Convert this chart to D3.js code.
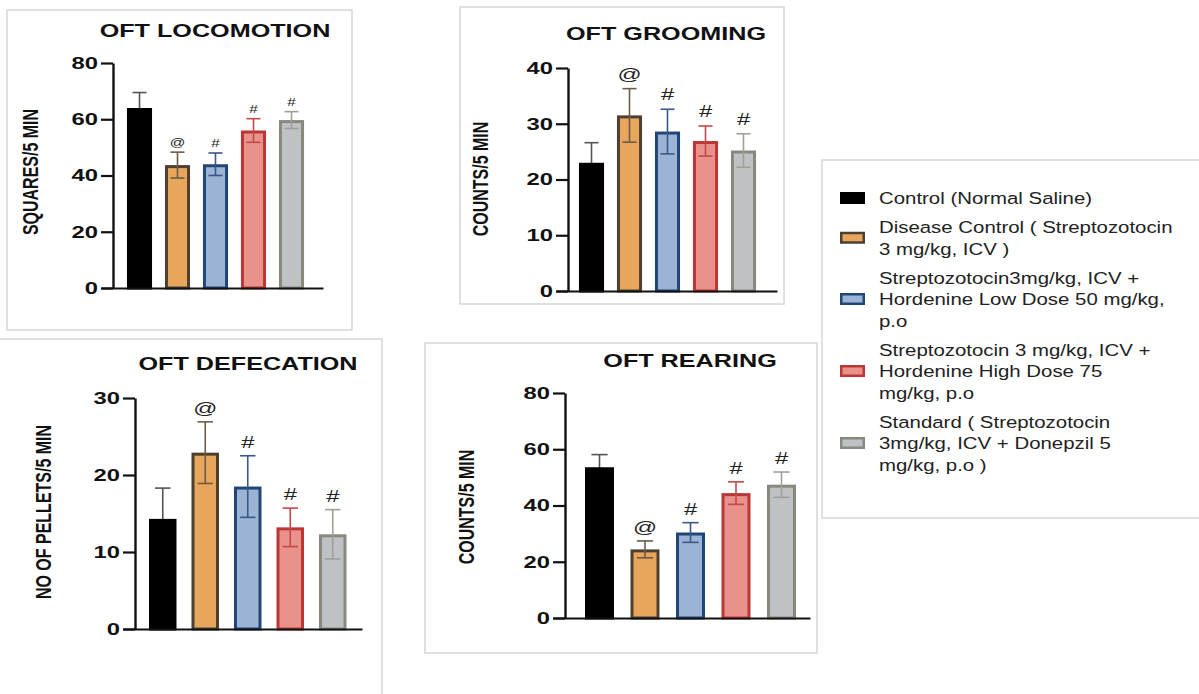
<!DOCTYPE html>
<html>
<head>
<meta charset="utf-8">
<script src="https://cdn.jsdelivr.net/npm/d3@7"></script>
<style>
  body { margin: 0; background: #fff; }
  svg { display: block; font-family: "Liberation Sans", Arial, sans-serif; }
</style>
</head>
<body>
<div id="chart"></div>
<script>
// groups, in bar order
const groups = ["Control", "Disease Control", "Hordenine Low Dose", "Hordenine High Dose", "Standard"];
const legendLines = [
  ["Control (Normal Saline)"],
  ["Disease Control ( Streptozotocin", "3 mg/kg, ICV )"],
  ["Streptozotocin3mg/kg, ICV +", "Hordenine Low Dose 50 mg/kg,", "p.o"],
  ["Streptozotocin 3 mg/kg, ICV +", "Hordenine High Dose 75", "mg/kg, p.o"],
  ["Standard ( Streptozotocin", "3mg/kg, ICV + Donepzil 5", "mg/kg, p.o )"]
];
const signs = ["", "@", "#", "#", "#"];

// values (mean, error)
const locomotionMeans = [64, 43.7, 44, 56, 59.7];
const locomotionErrors = [5.5, 4.6, 4, 4.2, 3];
const locomotionTicks = [0, 20, 40, 60, 80];

const groomingMeans = [23, 31.5, 28.6, 26.9, 25.2];
const groomingErrors = [3.6, 4.8, 4, 2.7, 3];
const groomingTicks = [0, 10, 20, 30, 40];

const defecationMeans = [14.3, 22.9, 18.5, 13.2, 12.3];
const defecationErrors = [4, 4, 4, 2.5, 3.2];
const defecationTicks = [0, 10, 20, 30];

const rearingMeans = [53.6, 24.4, 30.4, 44.4, 47.4];
const rearingErrors = [4.5, 3, 3.5, 4, 4.5];
const rearingTicks = [0, 20, 40, 60, 80];

const fillColors = ["#000000", "#e8a65d", "#9bb4d6", "#e8928b", "#bec2c5"];
const edgeColors = ["#000000", "#4e4030", "#224577", "#bd3636", "#88887e"];
const errColors = ["#555555", "#6b5c48", "#3a5885", "#c44848", "#a0a098"];

// the source picture is stretched sideways, so text is too
const SX = 1.4;

const svg = d3.select("#chart").append("svg")
  .attr("width", 1199)
  .attr("height", 694);

const panels = [
  { title: "OFT LOCOMOTION", ylabel: "SQUARES/5 MIN",
    means: locomotionMeans, errors: locomotionErrors, ticks: locomotionTicks,
    axisX: 113, y0: 288, yTop: 63, xEnd: 323, band: [120.5, 310.5], pad: 0.34,
    titleX: 215, titleY: 37, labelX: 30, labelY: 172, signSize: 11, signGap: 6,
    frame: [7, 10, 345, 320] },
  { title: "OFT GROOMING", ylabel: "COUNTS/5 MIN",
    means: groomingMeans, errors: groomingErrors, ticks: groomingTicks,
    axisX: 568, y0: 291, yTop: 68, xEnd: 777, band: [572.5, 762.5], pad: 0.34,
    titleX: 666, titleY: 39.5, labelX: 480, labelY: 179, signSize: 17, signGap: 9,
    frame: [460, 7, 324, 297] },
  { title: "OFT DEFECATION", ylabel: "NO OF PELLETS/5 MIN",
    means: defecationMeans, errors: defecationErrors, ticks: defecationTicks,
    axisX: 135, y0: 629, yTop: 398, xEnd: 362, band: [141.5, 354], pad: 0.353,
    titleX: 248, titleY: 369.5, labelX: 43, labelY: 512, signSize: 17, signGap: 8,
    frame: [-5, 339, 387, 400] },
  { title: "OFT REARING", ylabel: "COUNTS/5 MIN",
    means: rearingMeans, errors: rearingErrors, ticks: rearingTicks,
    axisX: 565, y0: 618, yTop: 393, xEnd: 810, band: [576.75, 804.25], pad: 0.363,
    titleX: 690, titleY: 367, labelX: 466, labelY: 507, signSize: 17, signGap: 8,
    frame: [425, 343, 392, 310] }
];

panels.forEach((p) => {
  const g = svg.append("g");

  // light frame around each graph
  g.append("rect")
    .attr("x", p.frame[0]).attr("y", p.frame[1])
    .attr("width", p.frame[2]).attr("height", p.frame[3])
    .attr("fill", "none")
    .attr("stroke", "#d6d6d6")
    .attr("stroke-width", 1.5);

  const x = d3.scaleBand()
    .domain(groups)
    .range(p.band)
    .paddingInner(p.pad)
    .paddingOuter(p.pad / 2);

  const y = d3.scaleLinear()
    .domain([0, d3.max(p.ticks)])
    .range([p.y0, p.yTop]);

  const data = groups.map((name, i) => ({
    name: name, mean: p.means[i], err: p.errors[i], i: i
  }));

  // error bars with caps on both ends
  const cap = x.bandwidth() * 0.28;
  const eb = g.selectAll(".err")
    .data(data)
    .enter()
    .append("g")
    .attr("class", "err")
    .attr("stroke", (d) => errColors[d.i])
    .attr("stroke-width", 1.6);
  eb.append("line")
    .attr("x1", (d) => x(d.name) + x.bandwidth() / 2)
    .attr("x2", (d) => x(d.name) + x.bandwidth() / 2)
    .attr("y1", (d) => y(d.mean - d.err))
    .attr("y2", (d) => y(d.mean + d.err));
  eb.append("line")
    .attr("x1", (d) => x(d.name) + x.bandwidth() / 2 - cap)
    .attr("x2", (d) => x(d.name) + x.bandwidth() / 2 + cap)
    .attr("y1", (d) => y(d.mean + d.err))
    .attr("y2", (d) => y(d.mean + d.err));
  eb.append("line")
    .attr("x1", (d) => x(d.name) + x.bandwidth() / 2 - cap)
    .attr("x2", (d) => x(d.name) + x.bandwidth() / 2 + cap)
    .attr("y1", (d) => y(d.mean - d.err))
    .attr("y2", (d) => y(d.mean - d.err));

  // bars, drawn inside their outline
  const sw = 3;
  g.selectAll(".bar")
    .data(data)
    .enter()
    .append("rect")
    .attr("class", "bar")
    .attr("x", (d) => x(d.name) + sw / 2)
    .attr("width", x.bandwidth() - sw)
    .attr("y", (d) => y(d.mean) + sw / 2)
    .attr("height", (d) => y(0) - y(d.mean) - sw / 2)
    .attr("fill", (d) => fillColors[d.i])
    .attr("stroke", (d) => edgeColors[d.i])
    .attr("stroke-width", sw);

  // the black bar hides its lower half, the others show it
  eb.filter((d) => d.i > 0).raise();

  // significance marks
  g.selectAll(".sign")
    .data(data.filter((d) => signs[d.i] != ""))
    .enter()
    .append("text")
    .attr("transform", (d) =>
      "translate(" + (x(d.name) + x.bandwidth() / 2) + "," + (y(d.mean + d.err) - p.signGap) + ") scale(" + SX + ",1)")
    .attr("text-anchor", "middle")
    .style("font-size", p.signSize + "px")
    .attr("fill", "#222")
    .text((d) => signs[d.i]);

  // y axis
  const tickLen = 12;
  const ya = g.append("g")
    .attr("transform", "translate(" + p.axisX + ",0)")
    .call(d3.axisLeft(y).tickValues(p.ticks).tickSize(tickLen).tickSizeOuter(0));
  ya.select(".domain").attr("stroke", "#111").attr("stroke-width", 2.4);
  ya.selectAll(".tick line").attr("stroke", "#111").attr("stroke-width", 2.2);
  ya.selectAll(".tick text")
    .attr("x", -(tickLen + 3) / SX)
    .attr("transform", "scale(" + SX + ",1)")
    .attr("fill", "#111")
    .style("font-size", "17px")
    .style("font-weight", "bold")
    .style("font-family", "'Liberation Sans', Arial, sans-serif");

  // x axis line (no ticks)
  const xa = g.append("g")
    .attr("transform", "translate(0," + p.y0 + ")")
    .call(d3.axisBottom(d3.scaleLinear().range([p.axisX - tickLen, p.xEnd])).ticks(0).tickSizeOuter(0));
  xa.select(".domain").attr("stroke", "#111").attr("stroke-width", 2.2);

  // title
  g.append("text")
    .attr("transform", "translate(" + p.titleX + "," + p.titleY + ") scale(" + SX + ",1)")
    .attr("text-anchor", "middle")
    .style("font-size", "18px")
    .style("font-weight", "bold")
    .attr("fill", "#111")
    .text(p.title);

  // y label
  g.append("text")
    .attr("transform", "translate(" + (p.labelX + 0.36 * 16 * SX) + "," + p.labelY + ") scale(" + SX + ",1) rotate(-90)")
    .attr("text-anchor", "middle")
    .style("font-size", "16px")
    .style("font-weight", "bold")
    .attr("fill", "#111")
    .text(p.ylabel);
});

// legend box
const legend = svg.append("g");
legend.append("rect")
  .attr("x", 822).attr("y", 160)
  .attr("width", 400).attr("height", 358)
  .attr("fill", "none")
  .attr("stroke", "#d6d6d6")
  .attr("stroke-width", 1.5);

const lineH = 21.5;
let ly = 198;
legendLines.forEach((lines, i) => {
  const mid = ly + (lines.length - 1) * lineH / 2;
  legend.append("rect")
    .attr("x", 841.25).attr("y", mid - 4.75)
    .attr("width", 22.5).attr("height", 9.5)
    .attr("fill", fillColors[i])
    .attr("stroke", edgeColors[i])
    .attr("stroke-width", 2.5);
  lines.forEach((t, k) => {
    legend.append("text")
      .attr("transform", "translate(879," + (ly + k * lineH + 6) + ") scale(1.2,1)")
      .style("font-size", "17px")
      .attr("fill", "#222")
      .text(t);
  });
  ly += (lines.length - 1) * lineH + 29;
});
</script>
</body>
</html>
